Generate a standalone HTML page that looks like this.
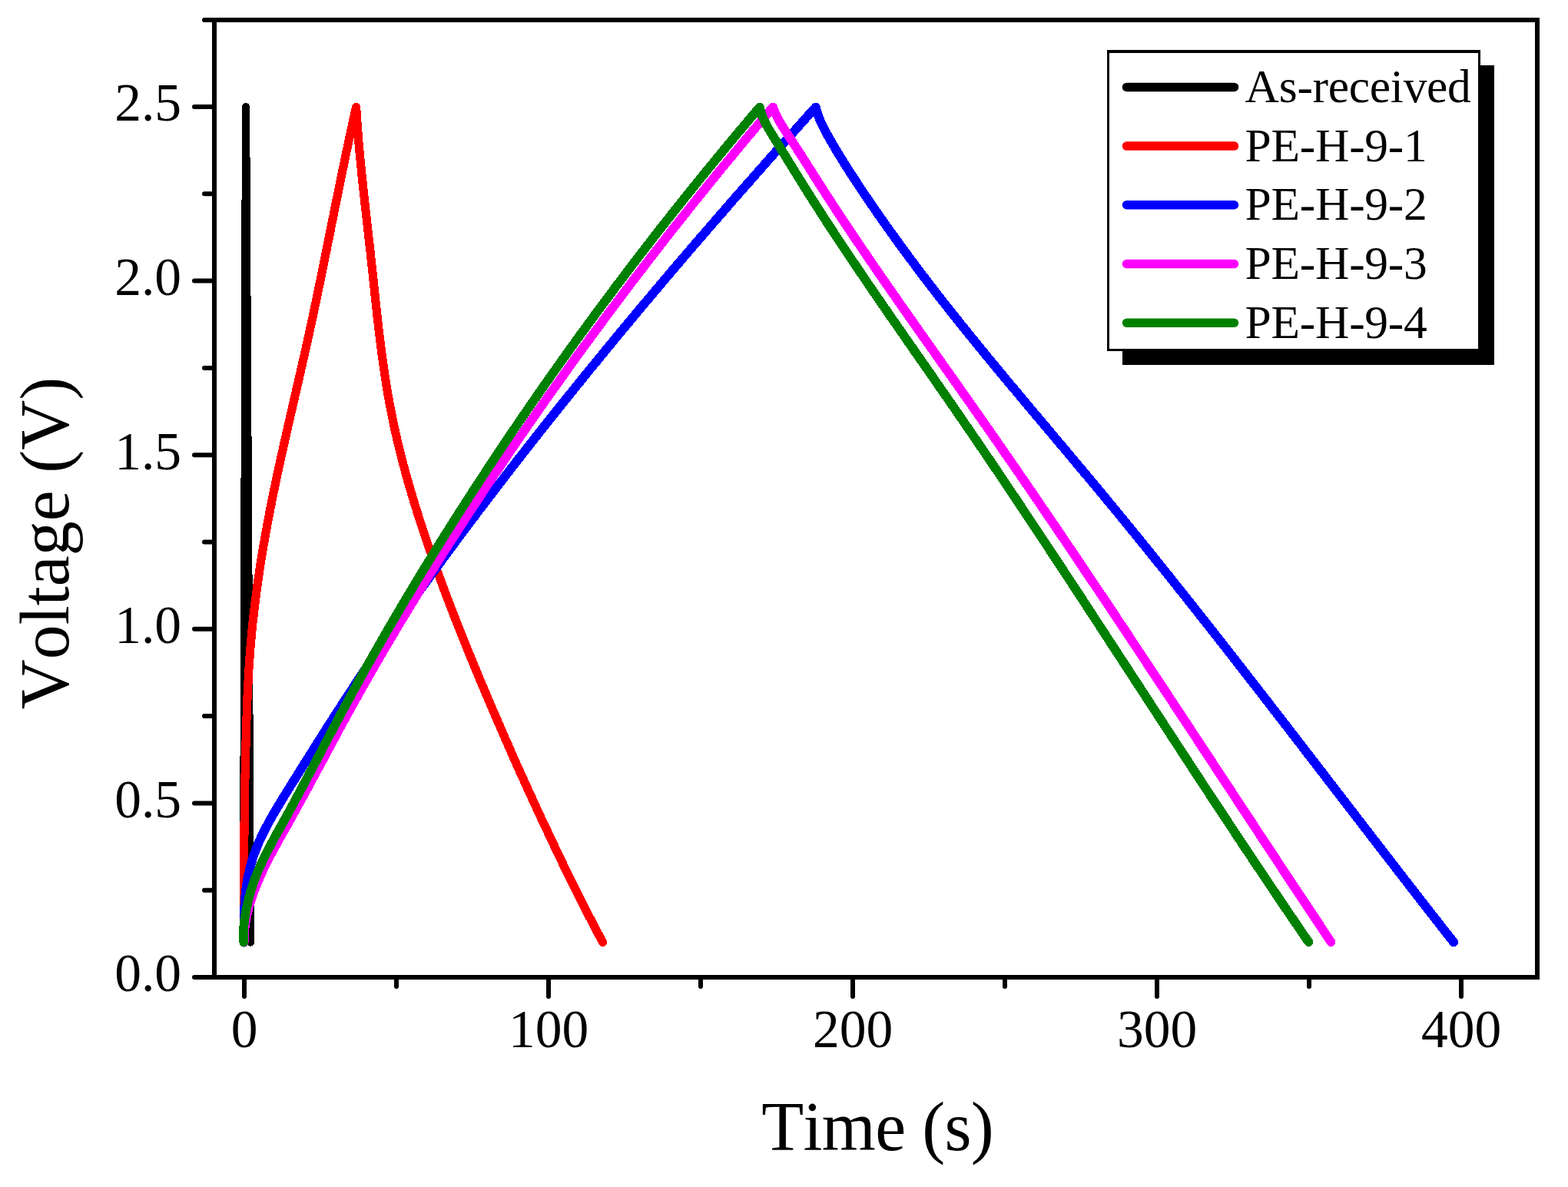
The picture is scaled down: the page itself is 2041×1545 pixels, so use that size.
<!DOCTYPE html>
<html lang="en"><head><meta charset="utf-8"><title>Galvanostatic charge-discharge curves</title>
<style>
html,body{margin:0;padding:0;background:#fff;}
body{width:2041px;height:1545px;overflow:hidden;}
svg{display:block;}
text{font-family:"Liberation Serif","DejaVu Serif",serif;fill:#000;font-kerning:none;}
.tick{font-size:69.5px;}
.title{font-size:90px;}
.leg{font-size:61.5px;letter-spacing:-0.28px;}
</style></head><body>
<svg width="2041" height="1545" viewBox="0 0 2041 1545" role="img" aria-label="Voltage versus time charge-discharge curves">
<rect x="0" y="0" width="2041" height="1545" fill="#ffffff"/>
<g fill="none" stroke-linejoin="round" stroke-linecap="round" shape-rendering="crispEdges">
<polyline stroke="#000000" stroke-width="10.3" points="317.0,1226.5 320.0,139.2 326.0,1226.5"/>
<polyline stroke="#ff0000" stroke-width="11.2" points="317.6,1226.6 317.6,1224.1 317.6,1221.5 317.6,1219.0 317.6,1218.8 317.5,1216.4 317.5,1213.9 317.5,1211.3 317.5,1211.0 317.5,1208.8 317.5,1206.3 317.5,1203.7 317.5,1203.1 317.5,1201.2 317.5,1198.6 317.5,1196.1 317.5,1195.3 317.5,1193.5 317.5,1191.0 317.4,1188.5 317.4,1187.5 317.4,1185.9 317.4,1183.4 317.4,1180.8 317.4,1179.7 317.4,1178.3 317.4,1175.8 317.4,1173.2 317.4,1171.8 317.4,1170.7 317.4,1168.1 317.4,1165.6 317.4,1164.0 317.4,1163.0 317.4,1160.5 317.4,1158.0 317.4,1156.2 317.4,1155.4 317.5,1152.9 317.5,1150.3 317.5,1148.4 317.5,1147.8 317.5,1145.2 317.5,1142.7 317.5,1140.6 317.5,1140.2 317.5,1137.6 317.5,1135.1 317.5,1132.7 317.5,1132.5 317.5,1130.0 317.5,1127.4 317.6,1124.9 317.6,1124.9 317.6,1122.4 317.6,1119.8 317.6,1117.3 317.6,1117.1 317.6,1114.7 317.6,1112.2 317.7,1109.7 317.7,1109.3 317.7,1107.1 317.7,1104.6 317.7,1102.0 317.7,1101.5 317.7,1099.5 317.8,1096.9 317.8,1094.4 317.8,1093.6 317.8,1091.9 317.8,1089.3 317.9,1086.8 317.9,1085.8 317.9,1084.2 317.9,1081.7 317.9,1079.1 318.0,1078.0 318.0,1076.6 318.1,1070.2 318.2,1062.3 318.3,1054.5 318.4,1046.7 318.5,1038.9 318.6,1031.1 318.8,1023.2 318.9,1015.4 319.1,1007.6 319.2,999.8 319.4,992.0 319.6,984.1 319.8,976.3 320.0,968.5 320.2,960.7 320.4,952.8 320.6,945.0 320.9,937.2 321.2,929.4 321.5,921.6 321.8,913.7 322.1,905.9 322.5,898.1 322.9,890.3 323.3,882.5 323.7,874.6 324.2,866.8 324.8,859.0 325.3,851.2 325.9,843.3 326.6,835.5 327.3,827.7 328.0,819.9 328.8,812.1 329.7,804.2 330.6,796.4 331.5,788.6 332.5,780.8 333.5,772.9 334.5,765.1 335.6,757.3 336.8,749.5 337.9,741.7 339.1,733.8 340.4,726.0 341.7,718.2 343.0,710.4 344.4,702.6 345.7,694.7 347.2,686.9 348.6,679.1 350.1,671.3 351.6,663.4 353.2,655.6 354.7,647.8 356.3,640.0 357.9,632.2 359.6,624.3 361.2,616.5 362.9,608.7 364.6,600.9 366.3,593.1 368.1,585.2 369.8,577.4 371.6,569.6 373.3,561.8 375.1,553.9 376.9,546.1 378.7,538.3 380.5,530.5 382.3,522.7 384.1,514.8 385.9,507.0 387.7,499.2 389.5,491.4 391.3,483.5 393.0,475.7 394.8,467.9 396.6,460.1 398.3,452.3 400.1,444.4 401.8,436.6 403.5,428.8 405.2,421.0 406.9,413.2 408.6,405.3 410.2,397.5 411.9,389.7 413.5,381.9 415.1,374.0 416.7,366.2 418.3,358.4 419.9,350.6 421.5,342.8 423.1,334.9 424.7,327.1 426.2,319.3 427.8,311.5 429.4,303.7 430.9,295.8 432.5,288.0 434.1,280.2 435.6,272.4 437.2,264.5 438.8,256.7 440.4,248.9 442.0,241.1 443.6,233.3 445.2,225.4 446.8,217.6 448.4,209.8 450.0,202.0 451.7,194.2 453.3,186.3 455.0,178.5 456.7,170.7 458.4,162.9 460.1,155.0 461.8,147.2 463.6,139.4 463.7,141.8 463.9,144.3 464.0,146.7 464.1,147.2 464.2,149.2 464.4,151.6 464.5,154.1 464.6,155.0 464.7,156.5 464.9,159.0 465.0,161.4 465.1,162.9 465.2,163.9 465.4,166.3 465.6,168.8 465.7,170.7 465.8,171.2 466.0,173.7 466.2,176.1 466.4,178.5 466.4,178.6 466.6,181.0 466.8,183.5 467.0,185.9 467.0,186.3 467.2,188.4 467.4,190.8 467.6,193.3 467.7,194.1 467.9,195.7 468.1,198.2 468.3,200.6 468.4,202.0 468.5,203.1 468.8,205.5 469.0,208.0 469.2,209.8 469.2,210.4 469.5,212.9 469.7,215.3 469.9,217.6 470.0,217.8 470.2,220.2 470.4,222.7 470.7,225.1 470.7,225.4 470.9,227.6 471.2,230.0 471.5,232.5 471.5,233.3 471.7,234.9 472.0,237.4 472.2,239.8 472.4,241.1 472.5,242.3 472.8,244.7 473.0,247.2 473.2,248.9 473.3,249.6 473.5,252.1 473.8,254.5 474.1,256.7 474.1,257.0 474.4,259.4 474.9,264.5 475.8,272.4 476.7,280.2 477.6,288.0 478.4,295.8 479.3,303.6 480.2,311.5 481.1,319.3 482.0,327.1 482.8,334.9 483.7,342.7 484.5,350.6 485.4,358.4 486.2,366.2 487.0,374.0 487.8,381.8 488.7,389.7 489.5,397.5 490.4,405.3 491.2,413.1 492.1,421.0 493.0,428.8 494.0,436.6 494.9,444.4 495.9,452.2 496.9,460.1 498.0,467.9 499.1,475.7 500.2,483.5 501.4,491.3 502.6,499.2 503.9,507.0 505.2,514.8 506.6,522.6 508.1,530.4 509.6,538.3 511.2,546.1 512.8,553.9 514.5,561.7 516.3,569.5 518.1,577.4 520.0,585.2 522.0,593.0 524.0,600.8 526.1,608.7 528.2,616.5 530.4,624.3 532.6,632.1 534.9,639.9 537.3,647.8 539.6,655.6 542.1,663.4 544.5,671.2 547.1,679.0 549.6,686.9 552.2,694.7 554.9,702.5 557.5,710.3 560.3,718.1 563.0,726.0 565.8,733.8 568.6,741.6 571.4,749.4 574.3,757.2 577.2,765.1 580.1,772.9 583.1,780.7 586.1,788.5 589.1,796.4 592.2,804.2 595.2,812.0 598.3,819.8 601.4,827.6 604.6,835.5 607.7,843.3 610.9,851.1 614.1,858.9 617.3,866.7 620.6,874.6 623.8,882.4 627.1,890.2 630.4,898.0 633.7,905.8 637.0,913.7 640.4,921.5 643.8,929.3 647.1,937.1 650.5,944.9 653.9,952.8 657.3,960.6 660.8,968.4 664.2,976.2 667.6,984.1 671.1,991.9 674.6,999.7 678.1,1007.5 681.7,1015.3 685.2,1023.2 688.8,1031.0 692.4,1038.8 696.0,1046.6 699.6,1054.4 703.2,1062.3 706.9,1070.1 710.6,1077.9 714.3,1085.7 718.0,1093.5 721.7,1101.4 725.4,1109.2 729.2,1117.0 732.9,1124.8 736.7,1132.6 740.5,1140.5 744.4,1148.3 748.2,1156.1 752.1,1163.9 756.1,1171.8 760.0,1179.6 764.0,1187.4 768.1,1195.2 772.2,1203.0 776.3,1210.9 780.4,1218.7 784.6,1226.5"/>
<polyline stroke="#0000ff" stroke-width="11.8" points="317.5,1226.6 317.5,1224.1 317.5,1221.5 317.5,1219.0 317.5,1218.8 317.6,1216.4 317.6,1213.9 317.6,1211.3 317.6,1211.0 317.6,1208.8 317.6,1206.3 317.6,1203.7 317.7,1203.1 317.7,1201.2 317.7,1198.6 317.8,1196.1 317.8,1195.3 317.8,1193.5 317.9,1191.0 318.0,1188.5 318.0,1187.5 318.0,1185.9 318.2,1183.4 318.3,1180.8 318.3,1179.7 318.4,1178.3 318.6,1175.8 318.7,1173.2 318.8,1171.8 318.9,1170.7 319.1,1168.1 319.4,1165.6 319.5,1164.0 319.6,1163.0 319.9,1160.5 320.2,1158.0 320.5,1156.2 320.6,1155.4 320.9,1152.9 321.3,1150.3 321.6,1148.4 321.7,1147.8 322.2,1145.2 322.6,1142.7 323.0,1140.6 323.1,1140.2 323.7,1137.6 324.2,1135.1 324.8,1132.7 324.8,1132.5 325.4,1130.0 326.1,1127.4 326.8,1124.9 326.8,1124.9 327.5,1122.4 328.2,1119.8 329.0,1117.3 329.1,1117.1 329.9,1114.7 330.7,1112.2 331.6,1109.7 331.8,1109.3 332.6,1107.1 333.5,1104.6 334.6,1102.0 334.8,1101.5 335.6,1099.5 336.7,1096.9 337.8,1094.4 338.2,1093.6 339.0,1091.9 340.1,1089.3 341.4,1086.8 341.8,1085.8 342.6,1084.2 343.9,1081.7 345.2,1079.1 345.8,1078.0 346.5,1076.6 349.9,1070.2 354.3,1062.3 358.9,1054.5 363.5,1046.7 368.3,1038.9 373.2,1031.1 378.0,1023.2 382.9,1015.4 387.8,1007.6 392.6,999.8 397.5,992.0 402.5,984.1 407.4,976.3 412.3,968.5 417.3,960.7 422.2,952.8 427.2,945.0 432.2,937.2 437.2,929.4 442.3,921.6 447.4,913.7 452.5,905.9 457.6,898.1 462.7,890.3 467.9,882.5 473.1,874.6 478.4,866.8 483.6,859.0 488.9,851.2 494.3,843.3 499.6,835.5 505.0,827.7 510.4,819.9 515.9,812.1 521.3,804.2 526.8,796.4 532.4,788.6 537.9,780.8 543.5,772.9 549.1,765.1 554.7,757.3 560.4,749.5 566.1,741.7 571.8,733.8 577.5,726.0 583.3,718.2 589.0,710.4 594.8,702.6 600.7,694.7 606.5,686.9 612.4,679.1 618.3,671.3 624.2,663.4 630.1,655.6 636.1,647.8 642.1,640.0 648.1,632.2 654.1,624.3 660.1,616.5 666.2,608.7 672.2,600.9 678.3,593.1 684.5,585.2 690.6,577.4 696.8,569.6 702.9,561.8 709.1,553.9 715.3,546.1 721.6,538.3 727.8,530.5 734.1,522.7 740.4,514.8 746.7,507.0 753.0,499.2 759.3,491.4 765.7,483.5 772.1,475.7 778.5,467.9 784.9,460.1 791.3,452.3 797.8,444.4 804.2,436.6 810.7,428.8 817.2,421.0 823.7,413.2 830.3,405.3 836.8,397.5 843.4,389.7 850.0,381.9 856.6,374.0 863.2,366.2 869.8,358.4 876.5,350.6 883.1,342.8 889.8,334.9 896.5,327.1 903.2,319.3 910.0,311.5 916.7,303.7 923.5,295.8 930.3,288.0 937.1,280.2 943.9,272.4 950.7,264.5 957.5,256.7 964.4,248.9 971.3,241.1 978.2,233.3 985.1,225.4 992.0,217.6 998.9,209.8 1005.8,202.0 1012.8,194.2 1019.8,186.3 1026.8,178.5 1033.8,170.7 1040.8,162.9 1047.8,155.0 1054.8,147.2 1061.9,139.4 1062.4,141.8 1063.1,144.3 1063.8,146.7 1063.9,147.2 1064.6,149.2 1065.5,151.6 1066.4,154.1 1066.8,155.0 1067.4,156.5 1068.5,159.0 1069.6,161.4 1070.3,162.9 1070.8,163.9 1072.0,166.3 1073.3,168.8 1074.3,170.7 1074.6,171.2 1075.9,173.7 1077.3,176.1 1078.6,178.5 1078.7,178.6 1080.1,181.0 1081.5,183.5 1082.9,185.9 1083.1,186.3 1084.3,188.4 1085.8,190.8 1087.2,193.3 1087.7,194.1 1088.7,195.7 1090.1,198.2 1091.6,200.6 1092.4,202.0 1093.1,203.1 1094.6,205.5 1096.1,208.0 1097.3,209.8 1097.7,210.4 1099.2,212.9 1100.7,215.3 1102.2,217.6 1102.3,217.8 1103.8,220.2 1105.4,222.7 1107.0,225.1 1107.2,225.4 1108.6,227.6 1110.2,230.0 1111.8,232.5 1112.3,233.3 1113.4,234.9 1115.0,237.4 1116.6,239.8 1117.4,241.1 1118.2,242.3 1119.8,244.7 1121.5,247.2 1122.6,248.9 1123.1,249.6 1124.8,252.1 1126.4,254.5 1127.9,256.7 1128.1,257.0 1129.7,259.4 1133.2,264.5 1138.6,272.4 1144.0,280.2 1149.5,288.0 1155.0,295.8 1160.6,303.6 1166.3,311.5 1171.9,319.3 1177.7,327.1 1183.4,334.9 1189.3,342.7 1195.1,350.6 1201.0,358.4 1207.0,366.2 1213.0,374.0 1219.0,381.8 1225.1,389.7 1231.3,397.5 1237.4,405.3 1243.7,413.1 1249.9,421.0 1256.2,428.8 1262.5,436.6 1268.9,444.4 1275.2,452.2 1281.7,460.1 1288.1,467.9 1294.5,475.7 1301.0,483.5 1307.5,491.3 1314.0,499.2 1320.6,507.0 1327.1,514.8 1333.7,522.6 1340.2,530.4 1346.8,538.3 1353.4,546.1 1360.0,553.9 1366.5,561.7 1373.1,569.5 1379.7,577.4 1386.3,585.2 1392.9,593.0 1399.4,600.8 1406.0,608.7 1412.5,616.5 1419.1,624.3 1425.6,632.1 1432.1,639.9 1438.6,647.8 1445.0,655.6 1451.5,663.4 1457.9,671.2 1464.3,679.0 1470.7,686.9 1477.1,694.7 1483.4,702.5 1489.8,710.3 1496.1,718.1 1502.4,726.0 1508.7,733.8 1515.0,741.6 1521.3,749.4 1527.5,757.2 1533.7,765.1 1540.0,772.9 1546.2,780.7 1552.4,788.5 1558.6,796.4 1564.8,804.2 1570.9,812.0 1577.1,819.8 1583.2,827.6 1589.4,835.5 1595.5,843.3 1601.6,851.1 1607.7,858.9 1613.8,866.7 1619.9,874.6 1626.0,882.4 1632.1,890.2 1638.2,898.0 1644.2,905.8 1650.3,913.7 1656.3,921.5 1662.4,929.3 1668.4,937.1 1674.5,944.9 1680.5,952.8 1686.6,960.6 1692.6,968.4 1698.6,976.2 1704.6,984.1 1710.7,991.9 1716.7,999.7 1722.7,1007.5 1728.7,1015.3 1734.7,1023.2 1740.7,1031.0 1746.8,1038.8 1752.8,1046.6 1758.8,1054.4 1764.8,1062.3 1770.9,1070.1 1776.9,1077.9 1782.9,1085.7 1788.9,1093.5 1795.0,1101.4 1801.0,1109.2 1807.1,1117.0 1813.1,1124.8 1819.1,1132.6 1825.2,1140.5 1831.3,1148.3 1837.3,1156.1 1843.4,1163.9 1849.5,1171.8 1855.6,1179.6 1861.7,1187.4 1867.8,1195.2 1873.9,1203.0 1880.0,1210.9 1886.2,1218.7 1892.3,1226.5"/>
<polyline stroke="#ff00ff" stroke-width="11.84" points="317.6,1226.5 317.6,1224.0 317.6,1221.4 317.7,1218.9 317.7,1218.7 317.8,1216.3 318.0,1213.8 318.2,1211.2 318.3,1210.9 318.5,1208.7 318.8,1206.2 319.1,1203.6 319.2,1203.0 319.5,1201.1 320.0,1198.5 320.4,1196.0 320.6,1195.2 320.9,1193.4 321.5,1190.9 322.0,1188.4 322.3,1187.4 322.7,1185.8 323.3,1183.3 324.0,1180.7 324.3,1179.6 324.7,1178.2 325.4,1175.7 326.2,1173.1 326.6,1171.8 327.0,1170.6 327.9,1168.0 328.7,1165.5 329.3,1163.9 329.6,1162.9 330.5,1160.4 331.5,1157.9 332.2,1156.1 332.5,1155.3 333.5,1152.8 334.5,1150.2 335.3,1148.3 335.6,1147.7 336.7,1145.1 337.8,1142.6 338.7,1140.5 338.9,1140.1 340.0,1137.5 341.2,1135.0 342.3,1132.6 342.4,1132.4 343.6,1129.9 344.9,1127.3 346.1,1124.8 346.1,1124.8 347.4,1122.3 348.7,1119.7 350.0,1117.2 350.1,1117.0 351.3,1114.6 352.6,1112.1 354.0,1109.6 354.2,1109.2 355.4,1107.0 356.7,1104.5 358.1,1101.9 358.4,1101.4 359.5,1099.4 360.9,1096.8 362.3,1094.3 362.7,1093.5 363.7,1091.8 365.1,1089.2 366.6,1086.7 367.1,1085.7 368.0,1084.1 369.4,1081.6 370.8,1079.0 371.5,1077.9 372.3,1076.5 375.9,1070.1 380.3,1062.3 384.6,1054.4 388.9,1046.6 393.2,1038.8 397.5,1031.0 401.7,1023.2 405.9,1015.3 410.1,1007.5 414.4,999.7 418.6,991.9 422.8,984.1 427.0,976.2 431.2,968.4 435.4,960.6 439.6,952.8 443.8,944.9 448.1,937.1 452.4,929.3 456.7,921.5 461.0,913.7 465.4,905.8 469.8,898.0 474.2,890.2 478.7,882.4 483.2,874.6 487.7,866.7 492.2,858.9 496.7,851.1 501.3,843.3 505.9,835.5 510.6,827.6 515.2,819.8 519.9,812.0 524.6,804.2 529.3,796.4 534.1,788.5 538.9,780.7 543.7,772.9 548.5,765.1 553.3,757.2 558.2,749.4 563.1,741.6 568.0,733.8 573.0,726.0 577.9,718.1 582.9,710.3 587.9,702.5 593.0,694.7 598.0,686.9 603.1,679.0 608.2,671.2 613.3,663.4 618.5,655.6 623.6,647.8 628.8,639.9 634.0,632.1 639.2,624.3 644.4,616.5 649.7,608.7 655.0,600.8 660.3,593.0 665.6,585.2 671.0,577.4 676.3,569.5 681.7,561.7 687.1,553.9 692.5,546.1 698.0,538.3 703.4,530.4 708.9,522.6 714.4,514.8 720.0,507.0 725.5,499.2 731.1,491.3 736.7,483.5 742.3,475.7 747.9,467.9 753.6,460.1 759.3,452.2 765.0,444.4 770.7,436.6 776.5,428.8 782.3,421.0 788.1,413.1 793.9,405.3 799.7,397.5 805.6,389.7 811.5,381.8 817.4,374.0 823.3,366.2 829.3,358.4 835.3,350.6 841.3,342.7 847.3,334.9 853.4,327.1 859.4,319.3 865.5,311.5 871.7,303.6 877.8,295.8 884.0,288.0 890.2,280.2 896.4,272.4 902.7,264.5 909.0,256.7 915.3,248.9 921.6,241.1 927.9,233.3 934.3,225.4 940.7,217.6 947.2,209.8 953.6,202.0 960.1,194.1 966.6,186.3 973.1,178.5 979.7,170.7 986.3,162.9 992.9,155.0 999.5,147.2 1006.2,139.4 1007.0,141.8 1007.9,144.3 1009.0,146.7 1009.2,147.2 1010.1,149.2 1011.2,151.6 1012.5,154.1 1013.0,155.0 1013.8,156.5 1015.2,159.0 1016.6,161.4 1017.5,162.9 1018.1,163.9 1019.6,166.3 1021.2,168.8 1022.4,170.7 1022.8,171.2 1024.4,173.7 1026.0,176.1 1027.5,178.5 1027.6,178.6 1029.2,181.0 1030.8,183.5 1032.4,185.9 1032.6,186.3 1034.0,188.4 1035.6,190.8 1037.1,193.3 1037.7,194.1 1038.7,195.7 1040.3,198.2 1041.9,200.6 1042.7,201.9 1043.4,203.1 1045.0,205.5 1046.6,208.0 1047.7,209.8 1048.1,210.4 1049.7,212.9 1051.2,215.3 1052.7,217.6 1052.8,217.8 1054.3,220.2 1055.9,222.7 1057.5,225.1 1057.6,225.4 1059.0,227.6 1060.6,230.0 1062.1,232.5 1062.6,233.2 1063.7,234.9 1065.2,237.4 1066.8,239.8 1067.6,241.0 1068.4,242.3 1069.9,244.7 1071.5,247.2 1072.6,248.9 1073.1,249.6 1074.7,252.1 1076.2,254.5 1077.6,256.7 1077.8,257.0 1079.4,259.4 1082.7,264.5 1087.8,272.3 1093.0,280.1 1098.1,288.0 1103.3,295.8 1108.6,303.6 1113.8,311.4 1119.1,319.2 1124.4,327.0 1129.7,334.9 1135.1,342.7 1140.4,350.5 1145.8,358.3 1151.2,366.1 1156.7,374.0 1162.1,381.8 1167.6,389.6 1173.0,397.4 1178.5,405.2 1184.0,413.1 1189.5,420.9 1195.0,428.7 1200.5,436.5 1206.0,444.3 1211.6,452.1 1217.1,460.0 1222.6,467.8 1228.1,475.6 1233.7,483.4 1239.2,491.2 1244.7,499.1 1250.2,506.9 1255.7,514.7 1261.3,522.5 1266.7,530.3 1272.2,538.2 1277.7,546.0 1283.2,553.8 1288.6,561.6 1294.1,569.4 1299.5,577.2 1304.9,585.1 1310.3,592.9 1315.8,600.7 1321.1,608.5 1326.5,616.3 1331.9,624.2 1337.3,632.0 1342.6,639.8 1348.0,647.6 1353.3,655.4 1358.6,663.3 1364.0,671.1 1369.3,678.9 1374.6,686.7 1379.9,694.5 1385.2,702.3 1390.5,710.2 1395.8,718.0 1401.0,725.8 1406.3,733.6 1411.5,741.4 1416.8,749.3 1422.0,757.1 1427.3,764.9 1432.5,772.7 1437.8,780.5 1443.0,788.4 1448.2,796.2 1453.4,804.0 1458.6,811.8 1463.8,819.6 1469.0,827.4 1474.2,835.3 1479.4,843.1 1484.6,850.9 1489.8,858.7 1494.9,866.5 1500.1,874.4 1505.3,882.2 1510.5,890.0 1515.6,897.8 1520.8,905.6 1526.0,913.5 1531.1,921.3 1536.3,929.1 1541.4,936.9 1546.6,944.7 1551.7,952.5 1556.9,960.4 1562.0,968.2 1567.2,976.0 1572.3,983.8 1577.5,991.6 1582.6,999.5 1587.8,1007.3 1592.9,1015.1 1598.1,1022.9 1603.2,1030.7 1608.4,1038.6 1613.5,1046.4 1618.7,1054.2 1623.8,1062.0 1629.0,1069.8 1634.1,1077.6 1639.3,1085.5 1644.4,1093.3 1649.6,1101.1 1654.7,1108.9 1659.9,1116.7 1665.1,1124.6 1670.2,1132.4 1675.4,1140.2 1680.6,1148.0 1685.7,1155.8 1690.9,1163.7 1696.1,1171.5 1701.3,1179.3 1706.5,1187.1 1711.7,1194.9 1716.9,1202.7 1722.1,1210.6 1727.3,1218.4 1732.5,1226.2"/>
<polyline stroke="#008000" stroke-width="11.8" points="317.4,1226.5 317.2,1224.0 317.0,1221.4 316.9,1218.9 316.9,1218.7 316.9,1216.3 316.9,1213.8 317.0,1211.2 317.0,1210.9 317.2,1208.7 317.3,1206.2 317.6,1203.6 317.6,1203.0 317.8,1201.1 318.1,1198.5 318.5,1196.0 318.6,1195.2 318.9,1193.4 319.3,1190.9 319.7,1188.4 319.9,1187.4 320.2,1185.8 320.7,1183.3 321.2,1180.7 321.5,1179.6 321.8,1178.2 322.3,1175.7 322.9,1173.1 323.3,1171.8 323.6,1170.6 324.2,1168.0 324.9,1165.5 325.3,1163.9 325.6,1162.9 326.4,1160.4 327.1,1157.9 327.7,1156.1 327.9,1155.3 328.7,1152.8 329.6,1150.2 330.3,1148.3 330.5,1147.7 331.4,1145.1 332.3,1142.6 333.1,1140.5 333.3,1140.1 334.3,1137.5 335.3,1135.0 336.3,1132.6 336.4,1132.4 337.5,1129.9 338.6,1127.3 339.8,1124.8 339.8,1124.8 341.0,1122.3 342.2,1119.7 343.4,1117.2 343.5,1117.0 344.6,1114.6 345.9,1112.1 347.2,1109.6 347.4,1109.2 348.5,1107.0 349.8,1104.5 351.2,1101.9 351.5,1101.4 352.5,1099.4 353.9,1096.8 355.3,1094.3 355.7,1093.5 356.6,1091.8 358.0,1089.2 359.4,1086.7 360.0,1085.7 360.8,1084.1 362.3,1081.6 363.7,1079.0 364.3,1077.9 365.1,1076.5 368.7,1070.1 373.0,1062.3 377.3,1054.4 381.6,1046.6 385.8,1038.8 390.0,1031.0 394.2,1023.2 398.3,1015.3 402.5,1007.5 406.6,999.7 410.7,991.9 414.8,984.1 418.9,976.2 423.0,968.4 427.2,960.6 431.3,952.8 435.4,944.9 439.6,937.1 443.7,929.3 447.9,921.5 452.2,913.7 456.4,905.8 460.7,898.0 465.0,890.2 469.3,882.4 473.6,874.6 478.0,866.7 482.4,858.9 486.8,851.1 491.3,843.3 495.8,835.5 500.3,827.6 504.8,819.8 509.3,812.0 513.9,804.2 518.5,796.4 523.1,788.5 527.7,780.7 532.4,772.9 537.1,765.1 541.8,757.2 546.5,749.4 551.3,741.6 556.1,733.8 560.9,726.0 565.7,718.1 570.6,710.3 575.4,702.5 580.3,694.7 585.3,686.9 590.2,679.0 595.2,671.2 600.2,663.4 605.2,655.6 610.2,647.8 615.3,639.9 620.4,632.1 625.5,624.3 630.6,616.5 635.7,608.7 640.9,600.8 646.1,593.0 651.3,585.2 656.6,577.4 661.8,569.5 667.1,561.7 672.4,553.9 677.7,546.1 683.1,538.3 688.5,530.4 693.9,522.6 699.3,514.8 704.7,507.0 710.2,499.2 715.7,491.3 721.2,483.5 726.8,475.7 732.3,467.9 737.9,460.1 743.5,452.2 749.2,444.4 754.8,436.6 760.5,428.8 766.2,421.0 772.0,413.1 777.7,405.3 783.5,397.5 789.3,389.7 795.2,381.8 801.0,374.0 806.9,366.2 812.8,358.4 818.7,350.6 824.7,342.7 830.7,334.9 836.7,327.1 842.8,319.3 848.8,311.5 854.9,303.6 861.0,295.8 867.2,288.0 873.3,280.2 879.5,272.4 885.8,264.5 892.0,256.7 898.3,248.9 904.6,241.1 910.9,233.3 917.3,225.4 923.7,217.6 930.1,209.8 936.5,202.0 943.0,194.1 949.5,186.3 956.0,178.5 962.5,170.7 969.1,162.9 975.7,155.0 982.3,147.2 989.0,139.4 989.4,141.8 990.0,144.3 990.7,146.7 990.9,147.2 991.5,149.2 992.5,151.6 993.5,154.1 993.9,155.0 994.6,156.5 995.8,159.0 997.0,161.4 997.8,162.9 998.4,163.9 999.7,166.3 1001.2,168.8 1002.3,170.7 1002.6,171.2 1004.1,173.7 1005.6,176.1 1007.1,178.5 1007.1,178.6 1008.6,181.0 1010.2,183.5 1011.7,185.9 1011.9,186.3 1013.2,188.4 1014.7,190.8 1016.2,193.3 1016.7,194.1 1017.7,195.7 1019.2,198.2 1020.7,200.6 1021.5,201.9 1022.2,203.1 1023.7,205.5 1025.2,208.0 1026.3,209.8 1026.7,210.4 1028.3,212.9 1029.8,215.3 1031.2,217.6 1031.3,217.8 1032.8,220.2 1034.3,222.7 1035.8,225.1 1036.0,225.4 1037.3,227.6 1038.8,230.0 1040.3,232.5 1040.8,233.2 1041.9,234.9 1043.4,237.4 1044.9,239.8 1045.7,241.0 1046.4,242.3 1048.0,244.7 1049.5,247.2 1050.6,248.9 1051.0,249.6 1052.6,252.1 1054.1,254.5 1055.5,256.7 1055.7,257.0 1057.2,259.4 1060.5,264.5 1065.5,272.3 1070.5,280.1 1075.6,288.0 1080.7,295.8 1085.8,303.6 1091.0,311.4 1096.2,319.2 1101.4,327.0 1106.6,334.9 1111.9,342.7 1117.2,350.5 1122.5,358.3 1127.8,366.1 1133.1,374.0 1138.5,381.8 1143.8,389.6 1149.2,397.4 1154.6,405.2 1160.0,413.1 1165.5,420.9 1170.9,428.7 1176.3,436.5 1181.7,444.3 1187.2,452.1 1192.6,460.0 1198.1,467.8 1203.5,475.6 1209.0,483.4 1214.4,491.2 1219.8,499.1 1225.3,506.9 1230.7,514.7 1236.1,522.5 1241.5,530.3 1246.9,538.2 1252.3,546.0 1257.6,553.8 1263.0,561.6 1268.3,569.4 1273.7,577.2 1279.0,585.1 1284.3,592.9 1289.6,600.7 1294.9,608.5 1300.2,616.3 1305.4,624.2 1310.7,632.0 1315.9,639.8 1321.2,647.6 1326.4,655.4 1331.6,663.3 1336.8,671.1 1342.0,678.9 1347.2,686.7 1352.4,694.5 1357.6,702.3 1362.8,710.2 1367.9,718.0 1373.1,725.8 1378.2,733.6 1383.4,741.4 1388.5,749.3 1393.7,757.1 1398.8,764.9 1403.9,772.7 1409.1,780.5 1414.2,788.4 1419.3,796.2 1424.4,804.0 1429.5,811.8 1434.6,819.6 1439.7,827.4 1444.8,835.3 1449.9,843.1 1455.0,850.9 1460.1,858.7 1465.2,866.5 1470.3,874.4 1475.4,882.2 1480.5,890.0 1485.6,897.8 1490.7,905.6 1495.8,913.5 1500.9,921.3 1506.0,929.1 1511.1,936.9 1516.2,944.7 1521.3,952.5 1526.4,960.4 1531.5,968.2 1536.6,976.0 1541.7,983.8 1546.8,991.6 1551.9,999.5 1557.1,1007.3 1562.2,1015.1 1567.3,1022.9 1572.5,1030.7 1577.6,1038.6 1582.8,1046.4 1587.9,1054.2 1593.1,1062.0 1598.3,1069.8 1603.4,1077.6 1608.6,1085.5 1613.8,1093.3 1619.0,1101.1 1624.2,1108.9 1629.4,1116.7 1634.6,1124.6 1639.9,1132.4 1645.1,1140.2 1650.3,1148.0 1655.6,1155.8 1660.9,1163.7 1666.1,1171.5 1671.4,1179.3 1676.7,1187.1 1682.0,1194.9 1687.4,1202.7 1692.7,1210.6 1698.0,1218.4 1703.4,1226.2"/>
</g>
<g fill="#000" shape-rendering="crispEdges">
<rect x="276" y="23" width="6" height="1252"/>
<rect x="1998" y="23" width="6" height="1252"/>
<rect x="276" y="23" width="1728" height="6"/>
<rect x="276" y="1269" width="1728" height="6"/>
</g>
<g stroke="#000" stroke-width="6" stroke-linecap="round" fill="none">
<line x1="253" y1="1272.0" x2="277" y2="1272.0"/>
<line x1="253" y1="1045.4" x2="277" y2="1045.4"/>
<line x1="253" y1="818.8" x2="277" y2="818.8"/>
<line x1="253" y1="592.2" x2="277" y2="592.2"/>
<line x1="253" y1="365.6" x2="277" y2="365.6"/>
<line x1="253" y1="139.0" x2="277" y2="139.0"/>
<line x1="266" y1="1158.7" x2="277" y2="1158.7"/>
<line x1="266" y1="932.1" x2="277" y2="932.1"/>
<line x1="266" y1="705.5" x2="277" y2="705.5"/>
<line x1="266" y1="478.9" x2="277" y2="478.9"/>
<line x1="266" y1="252.3" x2="277" y2="252.3"/>
<line x1="266" y1="26.0" x2="277" y2="26.0"/>
<line x1="318.0" y1="1274" x2="318.0" y2="1297"/>
<line x1="714.0" y1="1274" x2="714.0" y2="1297"/>
<line x1="1110.0" y1="1274" x2="1110.0" y2="1297"/>
<line x1="1506.0" y1="1274" x2="1506.0" y2="1297"/>
<line x1="1902.0" y1="1274" x2="1902.0" y2="1297"/>
<line x1="516.0" y1="1274" x2="516.0" y2="1284"/>
<line x1="912.0" y1="1274" x2="912.0" y2="1284"/>
<line x1="1308.0" y1="1274" x2="1308.0" y2="1284"/>
<line x1="1704.0" y1="1274" x2="1704.0" y2="1284"/>
</g>
<g class="tick">
<text x="236" y="1290.3" text-anchor="end">0.0</text>
<text x="236" y="1063.7" text-anchor="end">0.5</text>
<text x="236" y="837.1" text-anchor="end">1.0</text>
<text x="236" y="610.5" text-anchor="end">1.5</text>
<text x="236" y="383.9" text-anchor="end">2.0</text>
<text x="236" y="157.3" text-anchor="end">2.5</text>
<text x="318.2" y="1363.3" text-anchor="middle">0</text>
<text x="714.2" y="1363.3" text-anchor="middle">100</text>
<text x="1110.2" y="1363.3" text-anchor="middle">200</text>
<text x="1506.2" y="1363.3" text-anchor="middle">300</text>
<text x="1902.2" y="1363.3" text-anchor="middle">400</text>
</g>
<text class="title" x="1142.2" y="1497" text-anchor="middle" style="letter-spacing:-0.7px">Time (s)</text>
<text class="title" transform="translate(88.5 707) rotate(-90)" text-anchor="middle">Voltage (V)</text>
<g shape-rendering="crispEdges">
<rect x="1461" y="85" width="484" height="390" fill="#000"/>
<rect x="1441" y="65" width="486" height="392" fill="#000"/>
<rect x="1444" y="69" width="480" height="385" fill="#fff"/>
</g>
<line x1="1466.5" y1="113.4" x2="1606.5" y2="113.4" stroke="#000000" stroke-width="11.5" stroke-linecap="round"/>
<text class="leg" x="1620.6" y="133.0">As-received</text>
<line x1="1466.5" y1="190.1" x2="1606.5" y2="190.1" stroke="#ff0000" stroke-width="11.5" stroke-linecap="round"/>
<text class="leg" x="1620.6" y="209.7">PE-H-9-1</text>
<line x1="1466.5" y1="266.8" x2="1606.5" y2="266.8" stroke="#0000ff" stroke-width="11.5" stroke-linecap="round"/>
<text class="leg" x="1620.6" y="286.4">PE-H-9-2</text>
<line x1="1466.5" y1="343.5" x2="1606.5" y2="343.5" stroke="#ff00ff" stroke-width="11.5" stroke-linecap="round"/>
<text class="leg" x="1620.6" y="363.1">PE-H-9-3</text>
<line x1="1466.5" y1="420.2" x2="1606.5" y2="420.2" stroke="#008000" stroke-width="11.5" stroke-linecap="round"/>
<text class="leg" x="1620.6" y="439.8">PE-H-9-4</text>
</svg></body></html>
